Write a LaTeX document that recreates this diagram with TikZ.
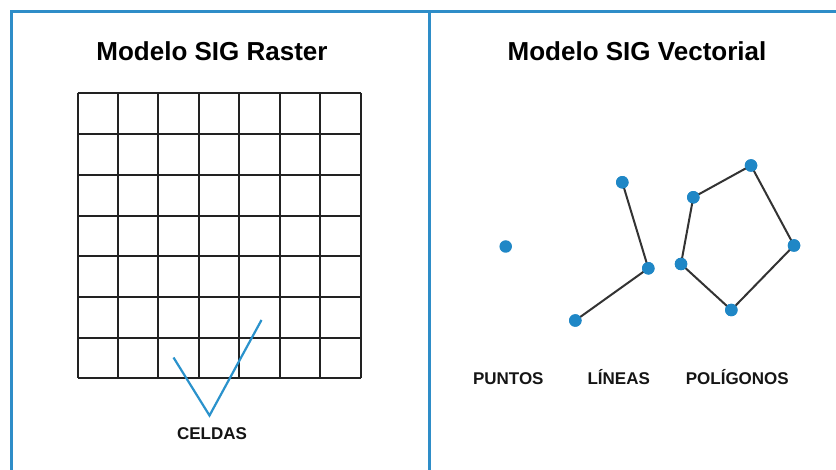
\documentclass[tikz,border=0pt]{standalone}
\usepackage{fontspec}
\setmainfont{Liberation Sans}
\begin{document}
\begin{tikzpicture}[x=1pt,y=-1pt,
  frameline/.style={draw=frameblue,line width=3pt},
  gridline/.style={draw=gridgray,line width=2pt},
  dot/.style={circle,fill=dotblue,inner sep=0pt,minimum size=12.5pt},
  edge/.style={draw=edgegray,line width=2pt},
  title/.style={font=\fontsize{26}{30}\selectfont\bfseries,text=black},
  lab/.style={font=\fontsize{17}{19}\selectfont\bfseries,text=labgray,anchor=base},
  checkline/.style={draw=checkblue,line width=2.2pt}]
\definecolor{frameblue}{HTML}{2E8DC8}
\definecolor{dotblue}{HTML}{1F87C6}
\definecolor{checkblue}{HTML}{2A92CC}
\definecolor{gridgray}{HTML}{222222}
\definecolor{edgegray}{HTML}{333333}
\definecolor{labgray}{HTML}{151515}
\useasboundingbox (0,0) rectangle (836,470);
\fill[white] (0,0) rectangle (836,470);
% frame
\coordinate (tl) at (11,12);
\coordinate (tr) at (836,12);
\coordinate (bl) at (11,470);
\coordinate (dt) at (429,12);
\coordinate (db) at (429,470);
\draw[frameline] (bl) -- (tl) -- (tr);
\draw[frameline] (dt) -- (db);
% titles
\node[title] (t1) at (212,51) {Modelo SIG Raster};
\node[title] (t2) at (637,51) {Modelo SIG Vectorial};
% grid
\foreach \i in {0,...,7} {
  \draw[gridline] ({77.5+\i*40.43},93.5) -- ({77.5+\i*40.43},378.3);
  \draw[gridline] (77.5,{93.5+\i*40.69}) -- (360.5,{93.5+\i*40.69});
}
% check
\coordinate (c1) at (173.5,357.5);
\coordinate (c2) at (209.5,415.5);
\coordinate (c3) at (261.5,320);
\draw[checkline] (c1) -- (c2) -- (c3);
\node[lab] (celdas) at (212,439.5) {CELDAS};
% vector: point
\node[dot] (p1) at (505.7,246.5) {};
% lines
\node[dot] (l1) at (622.3,182.3) {};
\node[dot] (l2) at (648.3,268.3) {};
\node[dot] (l3) at (575.3,320.5) {};
\draw[edge] (l1.center) -- (l2.center) -- (l3.center);
% polygon
\node[dot] (g1) at (693.3,197.3) {};
\node[dot] (g2) at (751,165.5) {};
\node[dot] (g3) at (794,245.5) {};
\node[dot] (g4) at (731.3,310) {};
\node[dot] (g5) at (681,264) {};
\draw[edge] (g1.center) -- (g2.center) -- (g3.center) -- (g4.center) -- (g5.center) -- cycle;
\foreach \n in {l1,l2,l3,g1,g2,g3,g4,g5} {\fill[dotblue] (\n) circle (6.25pt);}
% labels
\node[lab] (puntos) at (508.3,384.5) {PUNTOS};
\node[lab] (lineas) at (618.7,384.5) {LÍNEAS};
\node[lab] (poligonos) at (737.3,384.5) {POLÍGONOS};
\end{tikzpicture}
\end{document}
